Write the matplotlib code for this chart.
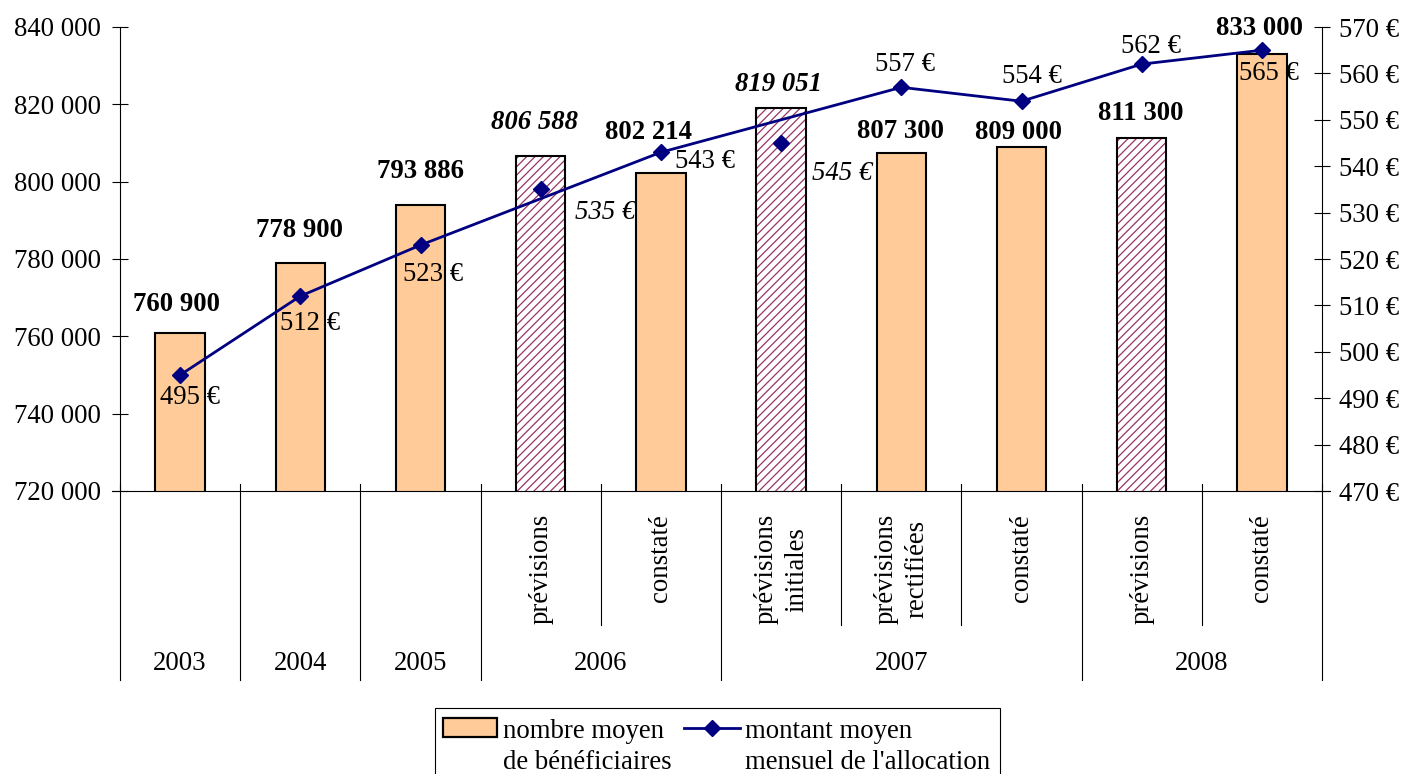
import matplotlib
matplotlib.use("Agg")
import matplotlib.pyplot as plt
from matplotlib.patches import Rectangle
from matplotlib.lines import Line2D
from matplotlib.ticker import FuncFormatter, MultipleLocator

plt.rcParams["font.family"] = ["Liberation Serif", "DejaVu Serif"]
plt.rcParams["hatch.linewidth"] = 0.9

# ---- data -----------------------------------------------------------------
years = ["2003", "2004", "2005", "2006", "2007", "2008"]
year_spans = [1, 1, 1, 2, 3, 2]
sub_labels = ["", "", "", "prévisions", "constaté",
              "prévisions\ninitiales", "prévisions\nrectifiées", "constaté",
              "prévisions", "constaté"]
beneficiaires = [760900, 778900, 793886, 806588, 802214,
                 819051, 807300, 809000, 811300, 833000]
allocation = [495, 512, 523, 535, 543, 545, 557, 554, 562, 565]
is_forecast = [False, False, False, True, False, True, False, False, True, False]
on_line = [True, True, True, False, True, False, True, True, True, True]
italic_label = [False, False, False, True, False, True, False, False, False, False]

# ---- label placement (pixels: right, down) --------------------------------
bar_label_offsets = [(-4, -22), (-1, -26), (0, -27), (-6, -27), (-12, -34),
                     (-3, -17), (-1, -15), (-3, -8), (-1, -18), (-2, -19)]
euro_label_offsets = [(10, 29), (10, 34), (13, 36), (64, 30), (44, 16),
                      (61, 37), (4, -16), (10, -18), (9, -11), (7, 30)]

W, H = 1407, 774
FS = 19.3
ORANGE = "#FFCC99"
MAROON = "#993366"
NAVY = "#000080"
PX = 72 / 100.0

fig = plt.figure(figsize=(W / 100, H / 100), dpi=100)
ax_left, ax_right, ax_top, ax_bottom = 120, 1322, 27, 491
ax = fig.add_axes([ax_left / W, 1 - ax_bottom / H,
                   (ax_right - ax_left) / W, (ax_bottom - ax_top) / H])
ax2 = ax.twinx()

n = len(beneficiaires)
x = list(range(n))
bar_w = 0.41

# bars: fill, hatch for forecasts, then black outline
faces = ["white" if f else ORANGE for f in is_forecast]
ax.bar(x, beneficiaires, width=bar_w, color=faces, edgecolor="none", zorder=2)
hx = [i for i in x if is_forecast[i]]
hv = [beneficiaires[i] for i in hx]
ax.bar(hx, hv, width=bar_w, facecolor="none", edgecolor=MAROON,
       hatch="////", linewidth=0, zorder=3)
ax.bar(x, beneficiaires, width=bar_w, fill=False, edgecolor="black",
       linewidth=1.5, zorder=4)

ax.set_xlim(-0.5, n - 0.5)
ax.set_ylim(720000, 840000)
ax.yaxis.set_major_locator(MultipleLocator(20000))
ax.yaxis.set_major_formatter(FuncFormatter(lambda v, p: f"{int(v):,}".replace(",", " ")))
ax.set_xticks([])

ax2.set_ylim(470, 570)
ax2.yaxis.set_major_locator(MultipleLocator(10))
ax2.yaxis.set_major_formatter(FuncFormatter(lambda v, p: f"{int(v)} €"))

for a in (ax, ax2):
    for s in ("top", "bottom"):
        a.spines[s].set_visible(False)
ax.spines["right"].set_visible(False)
ax2.spines["left"].set_visible(False)
ax.spines["left"].set_linewidth(0.8)
ax2.spines["right"].set_linewidth(0.8)
ax.tick_params(axis="y", direction="inout", length=11.5, width=0.8,
               pad=8.0, labelsize=FS)
ax2.tick_params(axis="y", direction="inout", length=11.5, width=0.8,
                pad=6.5, labelsize=FS)

# line series (forecast points shown as isolated markers)
lx = [i for i in x if on_line[i]]
ly = [allocation[i] for i in lx]
ax2.plot(lx, ly, color=NAVY, lw=2.0, marker="D", markersize=8,
         markerfacecolor=NAVY, markeredgecolor=NAVY, zorder=5)
px_ = [i for i in x if not on_line[i]]
py_ = [allocation[i] for i in px_]
ax2.plot(px_, py_, linestyle="none", marker="D", markersize=8,
         markerfacecolor=NAVY, markeredgecolor=NAVY, zorder=5)

# value labels
for i, v in enumerate(beneficiaires):
    dx, dy = bar_label_offsets[i]
    ax.annotate(f"{v:,}".replace(",", " "), xy=(i, v),
                xytext=(dx * PX, -dy * PX), textcoords="offset points",
                ha="center", va="baseline", fontsize=FS, fontweight="bold",
                fontstyle="italic" if italic_label[i] else "normal",
                annotation_clip=False, zorder=6)
for i, v in enumerate(allocation):
    dx, dy = euro_label_offsets[i]
    ax2.annotate(f"{v} €", xy=(i, v),
                 xytext=(dx * PX, -dy * PX), textcoords="offset points",
                 ha="center", va="baseline", fontsize=FS,
                 fontstyle="italic" if italic_label[i] else "normal",
                 annotation_clip=False, zorder=6)

# category axis: base line, separators, labels
axh = ax_bottom - ax_top
ext = 8 / (ax_right - ax_left)
ax.add_line(Line2D([-ext, 1 + ext], [0, 0], transform=ax.transAxes,
                   color="black", lw=0.8, clip_on=False))
tr = ax.get_xaxis_transform()
major_bounds = [0]
for s in year_spans:
    major_bounds.append(major_bounds[-1] + s)
for k in range(n + 1):
    bottom = -189 / axh if k in major_bounds else -134 / axh
    ax.add_line(Line2D([k - 0.5, k - 0.5], [7 / axh, bottom], transform=tr,
                       color="black", lw=0.8, clip_on=False))
for i, lab in enumerate(sub_labels):
    if lab:
        ax.text(i, -23 / axh, lab, transform=tr, rotation=90, ha="center",
                va="top", fontsize=FS, multialignment="center",
                linespacing=1.3)
start = 0
for yr, s in zip(years, year_spans):
    ax.text(start + (s - 1) / 2, -179.5 / axh, yr, transform=tr,
            ha="center", va="baseline", fontsize=FS)
    start += s

# legend (box runs past the bottom edge of the figure)
def fx(px):
    return px / W


def fy(py):
    return 1 - py / H


fig.add_artist(Rectangle((fx(435), fy(800)), fx(1000) - fx(435),
                         fy(708) - fy(800), transform=fig.transFigure,
                         facecolor="white", edgecolor="black", lw=0.8))
fig.add_artist(Rectangle((fx(443), fy(737)), fx(497) - fx(443),
                         fy(718) - fy(737), transform=fig.transFigure,
                         facecolor=ORANGE, edgecolor="black", lw=1.6))
fig.add_artist(Line2D([fx(684), fx(740)], [fy(728), fy(728)],
                      transform=fig.transFigure, color=NAVY, lw=2.0))
fig.add_artist(Line2D([fx(712)], [fy(728)], transform=fig.transFigure,
                      marker="D", markersize=8, color=NAVY, linestyle="none"))
fig.text(fx(503), fy(719), "nombre moyen\nde bénéficiaires", ha="left",
         va="top", fontsize=FS, linespacing=1.3)
fig.text(fx(745), fy(719), "montant moyen\nmensuel de l'allocation",
         ha="left", va="top", fontsize=FS, linespacing=1.3)

fig.savefig("out.png", dpi=100)
